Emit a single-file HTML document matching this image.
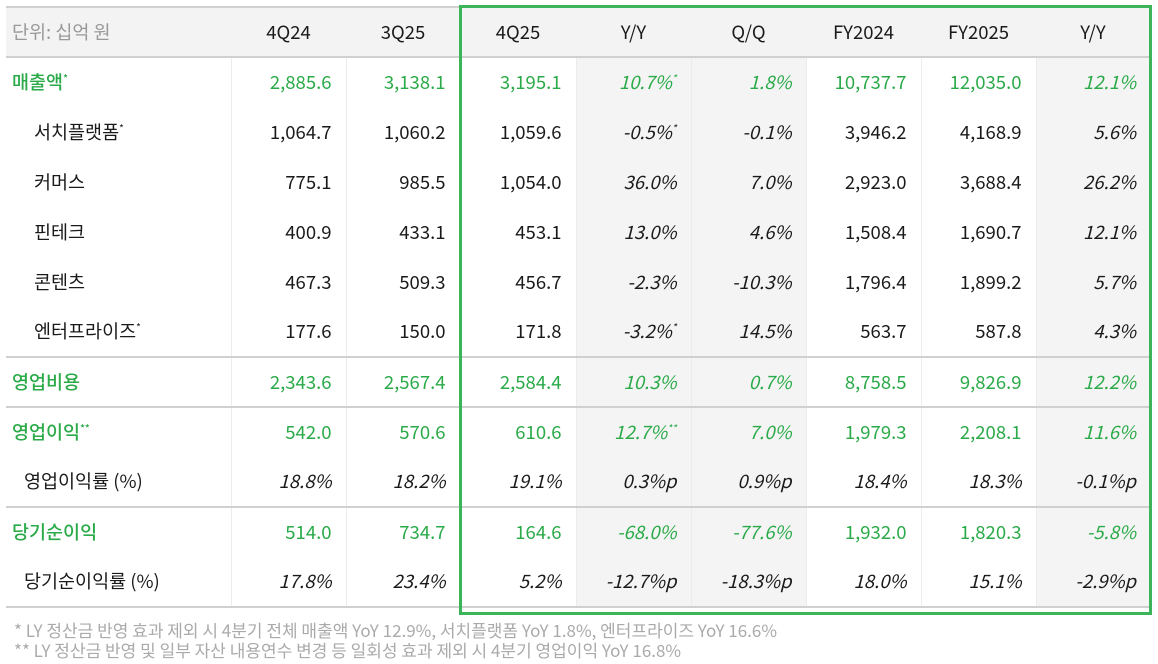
<!DOCTYPE html>
<html><head><meta charset="utf-8"><style>
body{margin:0;width:1158px;height:664px;background:#fff;font-family:"Noto Sans CJK KR","Liberation Sans",sans-serif;position:relative;overflow:hidden}
table{position:absolute;left:6px;top:6px;border-collapse:collapse;table-layout:fixed;width:1144px}
td{height:50px;padding:0 14px 0 0;text-align:right;font-size:18.5px;line-height:1;color:#1a1a1a;border-left:1px solid #ececec;box-sizing:border-box;white-space:nowrap}
td:first-child{text-align:left;padding-left:6px;border-left:none}
tr.h td{background:#f3f3f3;border-left:none;text-align:center;padding:0;border-top:2px solid #d0d0d0;border-bottom:2px solid #d0d0d0;height:50px}
tr.h td:first-child{color:#999;padding-left:6px;text-align:left}
td.g{background:#f4f4f4}
td i{font-style:italic}
tr.k td{color:#2aaa48}
tr.k td:first-child{font-weight:500}
tr.s td:first-child{padding-left:28px}
tr.b td{border-bottom:2px solid #d0d0d0}
sup{font-size:10px;vertical-align:7px}
.box{position:absolute;left:459px;top:5px;width:687px;height:604px;border:3px solid #3cb55a}
.fn{position:absolute;left:14px;font-size:17px;line-height:20px;color:#aaa}
</style></head><body>
<table>
<colgroup><col style="width:225px"><col style="width:115px"><col style="width:114px"><col style="width:116px"><col style="width:115px"><col style="width:115px"><col style="width:115px"><col style="width:115px"><col style="width:114px"></colgroup>
<tr class="h"><td>단위: 십억 원</td><td>4Q24</td><td>3Q25</td><td>4Q25</td><td>Y/Y</td><td>Q/Q</td><td>FY2024</td><td>FY2025</td><td>Y/Y</td></tr>
<tr class="k"><td>매출액<sup>*</sup></td><td>2,885.6</td><td>3,138.1</td><td>3,195.1</td><td class="g"><i>10.7%<sup>*</sup></i></td><td class="g"><i>1.8%</i></td><td>10,737.7</td><td>12,035.0</td><td class="g"><i>12.1%</i></td></tr>
<tr class="s"><td>서치플랫폼<sup>*</sup></td><td>1,064.7</td><td>1,060.2</td><td>1,059.6</td><td class="g"><i>-0.5%<sup>*</sup></i></td><td class="g"><i>-0.1%</i></td><td>3,946.2</td><td>4,168.9</td><td class="g"><i>5.6%</i></td></tr>
<tr class="s"><td>커머스</td><td>775.1</td><td>985.5</td><td>1,054.0</td><td class="g"><i>36.0%</i></td><td class="g"><i>7.0%</i></td><td>2,923.0</td><td>3,688.4</td><td class="g"><i>26.2%</i></td></tr>
<tr class="s"><td>핀테크</td><td>400.9</td><td>433.1</td><td>453.1</td><td class="g"><i>13.0%</i></td><td class="g"><i>4.6%</i></td><td>1,508.4</td><td>1,690.7</td><td class="g"><i>12.1%</i></td></tr>
<tr class="s"><td>콘텐츠</td><td>467.3</td><td>509.3</td><td>456.7</td><td class="g"><i>-2.3%</i></td><td class="g"><i>-10.3%</i></td><td>1,796.4</td><td>1,899.2</td><td class="g"><i>5.7%</i></td></tr>
<tr class="s b"><td>엔터프라이즈<sup>*</sup></td><td>177.6</td><td>150.0</td><td>171.8</td><td class="g"><i>-3.2%<sup>*</sup></i></td><td class="g"><i>14.5%</i></td><td>563.7</td><td>587.8</td><td class="g"><i>4.3%</i></td></tr>
<tr class="k b"><td>영업비용</td><td>2,343.6</td><td>2,567.4</td><td>2,584.4</td><td class="g"><i>10.3%</i></td><td class="g"><i>0.7%</i></td><td>8,758.5</td><td>9,826.9</td><td class="g"><i>12.2%</i></td></tr>
<tr class="k"><td>영업이익<sup>**</sup></td><td>542.0</td><td>570.6</td><td>610.6</td><td class="g"><i>12.7%<sup>**</sup></i></td><td class="g"><i>7.0%</i></td><td>1,979.3</td><td>2,208.1</td><td class="g"><i>11.6%</i></td></tr>
<tr class="b"><td style="padding-left:18px">영업이익률 (%)</td><td><i>18.8%</i></td><td><i>18.2%</i></td><td><i>19.1%</i></td><td class="g"><i>0.3%p</i></td><td class="g"><i>0.9%p</i></td><td><i>18.4%</i></td><td><i>18.3%</i></td><td class="g"><i>-0.1%p</i></td></tr>
<tr class="k"><td>당기순이익</td><td>514.0</td><td>734.7</td><td>164.6</td><td class="g"><i>-68.0%</i></td><td class="g"><i>-77.6%</i></td><td>1,932.0</td><td>1,820.3</td><td class="g"><i>-5.8%</i></td></tr>
<tr class="b"><td style="padding-left:18px">당기순이익률 (%)</td><td><i>17.8%</i></td><td><i>23.4%</i></td><td><i>5.2%</i></td><td class="g"><i>-12.7%p</i></td><td class="g"><i>-18.3%p</i></td><td><i>18.0%</i></td><td><i>15.1%</i></td><td class="g"><i>-2.9%p</i></td></tr>
</table>
<div class="box"></div>
<div class="fn" style="top:620px">* LY 정산금 반영 효과 제외 시 4분기 전체 매출액 YoY 12.9%, 서치플랫폼 YoY 1.8%, 엔터프라이즈 YoY 16.6%</div>
<div class="fn" style="top:640px">** LY 정산금 반영 및 일부 자산 내용연수 변경 등 일회성 효과 제외 시 4분기 영업이익 YoY 16.8%</div>
</body></html>
